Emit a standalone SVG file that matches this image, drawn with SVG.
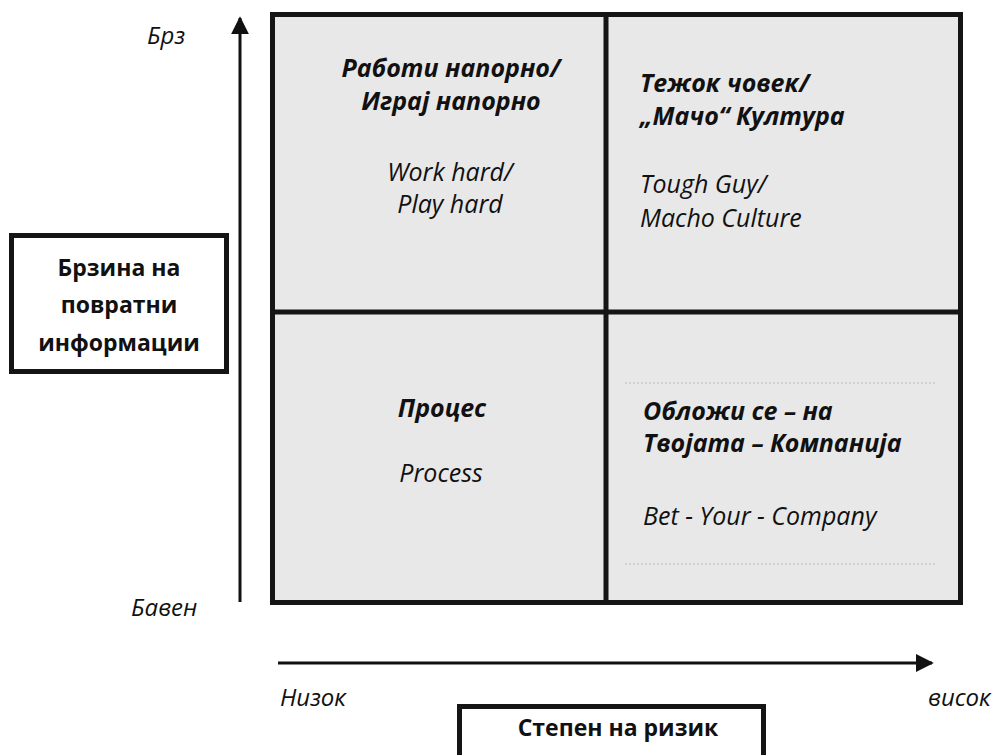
<svg xmlns="http://www.w3.org/2000/svg" width="995" height="755" viewBox="0 0 995 755">
<style>
.bi{font-family:"Open Sans","Noto Sans",sans-serif;font-weight:bold;font-style:italic;font-size:25px;fill:#111}
.it{font-family:"Open Sans","Noto Sans",sans-serif;font-style:italic;font-size:25px;fill:#111}
.ax{font-family:"Open Sans","Noto Sans",sans-serif;font-style:italic;font-size:24px;fill:#111}
.bx{font-family:"Open Sans","Noto Sans",sans-serif;font-weight:bold;font-size:23px;fill:#111}
.frame{fill:#fff;stroke:#151515;stroke-width:5}
.line{stroke:#151515;stroke-width:5;fill:none}
.axis{stroke:#111;stroke-width:3;fill:none}
.dot{stroke:#bbb;stroke-width:1;stroke-dasharray:2 2;fill:none}
</style>
<defs>
<marker id="ah" viewBox="0 0 10 10" refX="9" refY="5" markerWidth="6" markerHeight="6" orient="auto" markerUnits="strokeWidth">
<path d="M0,0 L10,5 L0,10 z" fill="#111"/>
</marker>
</defs>
<rect width="995" height="755" fill="#fff"/>
<g id="grid">
<rect x="272.5" y="14.5" width="688" height="588" fill="#e8e8e8" stroke="#151515" stroke-width="5"/>
<line class="line" x1="606" y1="14" x2="606" y2="603"/>
<line class="line" x1="272" y1="312" x2="961" y2="312"/>
<line class="dot" x1="625" y1="383" x2="935" y2="383"/>
<line class="dot" x1="625" y1="564" x2="935" y2="564"/>
</g>
<g id="q-work-hard">
<text class="bi" x="451" y="77" text-anchor="middle">Работи напорно/</text>
<text class="bi" x="451" y="110" text-anchor="middle">Играј напорно</text>
<text class="it" x="450" y="181" text-anchor="middle">Work hard/</text>
<text class="it" x="450" y="213" text-anchor="middle">Play hard</text>
</g>
<g id="q-tough-guy">
<text class="bi" x="640" y="92">Тежок човек/</text>
<text class="bi" x="640" y="125">„Мачо“ Култура</text>
<text class="it" x="640" y="193">Tough Guy/</text>
<text class="it" x="640" y="227">Macho Culture</text>
</g>
<g id="q-process">
<text class="bi" x="442" y="417" text-anchor="middle">Процес</text>
<text class="it" x="441" y="482" text-anchor="middle">Process</text>
</g>
<g id="q-bet">
<text class="bi" x="643" y="420">Обложи се – на</text>
<text class="bi" x="643" y="452">Твојата – Компанија</text>
<text class="it" x="643" y="525">Bet - Your - Company</text>
</g>
<g id="feedback-box">
<rect class="frame" x="11.5" y="235.5" width="215" height="136"/>
<text class="bx" x="119" y="276" text-anchor="middle">Брзина на</text>
<text class="bx" x="119" y="313" text-anchor="middle">повратни</text>
<text class="bx" x="119" y="351" text-anchor="middle">информации</text>
</g>
<g id="risk-box">
<rect class="frame" x="459.5" y="706.5" width="304" height="80"/>
<text class="bx" x="618" y="736" text-anchor="middle">Степен на ризик</text>
</g>
<g id="axis-labels">
<text class="ax" x="147" y="44">Брз</text>
<text class="ax" x="131" y="616">Бавен</text>
<text class="ax" x="280" y="706">Низок</text>
<text class="ax" x="928" y="706">висок</text>
</g>
<g id="connectors">
<line class="axis" x1="240" y1="602" x2="240" y2="18" marker-end="url(#ah)"/>
<line class="axis" x1="278" y1="663" x2="932" y2="663" marker-end="url(#ah)"/>
</g>
</svg>
